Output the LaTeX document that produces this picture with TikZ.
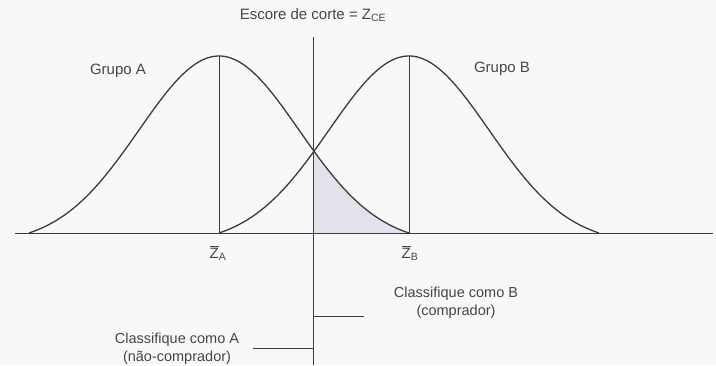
\documentclass[tikz,border=0pt]{standalone}
\usepackage{fontspec}
\setmainfont{Liberation Sans}
\definecolor{ink}{RGB}{60,60,60}
\definecolor{txt}{RGB}{70,70,70}
\definecolor{shadecol}{RGB}{226,226,234}
\definecolor{paper}{RGB}{248,248,250}
\newcommand{\zbar}[1]{{\setbox0\hbox{Z}\rlap{\rule[\dimexpr\ht0+1.6pt\relax]{\wd0}{0.8pt}}Z\textsubscript{#1}}}
\tikzset{
  curve/.style={draw=ink, line width=1.3pt},
  thin line/.style={draw=ink, line width=0.9pt},
  lbl/.style={text=txt, font=\fontsize{15}{17}\selectfont, inner sep=0pt},
  small lbl/.style={text=txt, font=\fontsize{14.5}{18}\selectfont, inner sep=0pt, align=center},
}
\begin{document}
\begin{tikzpicture}[x=1pt,y=1pt]
\useasboundingbox[fill=paper] (0,0) rectangle (716,365);
% shaded region under curve A to the right of the cut-off
\fill[shadecol] (313,132) -- plot[domain=0.94:1.9, samples=60, smooth] ({219+100*\x}, {132+188.2*(exp(-\x*\x/1.28)-0.0596)}) -- cycle;
% axis
\coordinate (axL) at (15,132);
\coordinate (axR) at (713,132);
\draw[thin line] (axL) -- (axR);
% curves
\draw[curve] plot[domain=-1.9:1.9, samples=120, smooth] ({219+100*\x}, {132+188.2*(exp(-\x*\x/1.28)-0.0596)});
\draw[curve] plot[domain=-1.9:1.9, samples=120, smooth] ({409+100*\x}, {132+188.2*(exp(-\x*\x/1.28)-0.0596)});
% mean lines
\coordinate (pA) at (219,309);
\coordinate (mA) at (219,132);
\coordinate (pB) at (409,309);
\coordinate (mB) at (409,132);
\draw[thin line] (pA) -- (mA);
\draw[thin line] (pB) -- (mB);
% cut-off line
\coordinate (cTop) at (313,328);
\coordinate (cBot) at (313,0);
\draw[thin line] (cTop) -- (cBot);
\coordinate (tB) at (364,49);
\coordinate (tBc) at (313,49);
\coordinate (tA) at (253,17);
\coordinate (tAc) at (313,17);
\draw[thin line] (tBc) -- (tB);
\draw[thin line] (tA) -- (tAc);
% labels
\node[lbl] (title) at (313,350) {Escore de corte = Z\textsubscript{CE}};
\node[lbl] (gA) at (118,294) {Grupo A};
\node[lbl] (gB) at (502,296) {Grupo B};
\node[lbl] (zA) at (218,112) {\zbar{A}};
\node[lbl] (zB) at (410,112) {\zbar{B}};
\node[small lbl] (cB) at (456,62) {Classifique como B\\(comprador)};
\node[small lbl] (cA) at (177,16) {Classifique como A\\(não-comprador)};
\end{tikzpicture}
\end{document}
